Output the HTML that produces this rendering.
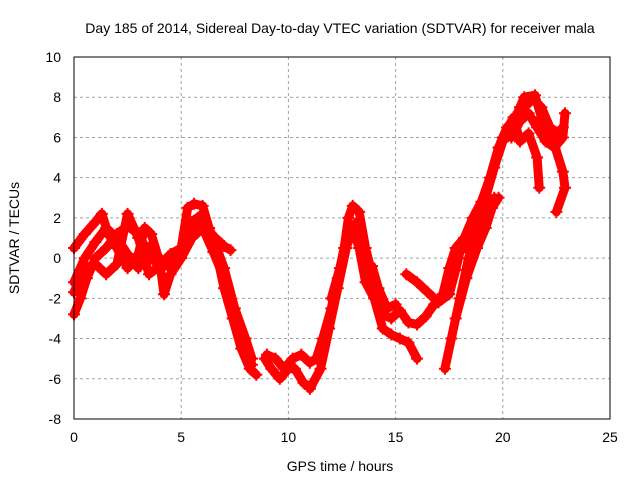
<!DOCTYPE html>
<html><head><meta charset="utf-8"><style>
body{margin:0;background:#fff}
svg text{font-family:"Liberation Sans",sans-serif;font-size:14px;fill:#000}
</style></head><body>
<svg id="c" width="640" height="480">
<text x="340" y="33" text-anchor="middle">Day 185 of 2014, Sidereal Day-to-day VTEC variation (SDTVAR) for receiver mala</text>
<text x="340" y="471" text-anchor="middle">GPS time / hours</text>
<text transform="translate(19,238) rotate(-90)" text-anchor="middle">SDTVAR / TECUs</text>
<g id="grid"></g><g id="ticks"></g><g id="marks"></g>
<rect x="74" y="57" width="536" height="362" fill="none" stroke="#000"/>
</svg>
<script>
const xTicks=[0,5,10,15,20,25];
const yTicks=[-8,-6,-4,-2,0,2,4,6,8,10];
const trackA=[[0,-2.8],[0.3,-2],[0.6,-1],[1,0],[1.5,0.5],[2,1.2],[2.5,1.6],[3,1.2],[3.5,0.2],[4,-0.5],[4.3,-0.3],[4.8,0],[5.2,0.8],[5.5,1.5],[5.8,2.0],[6.2,1.4],[6.6,1.0],[7,0.6],[7.3,0.4]];
const trackB=[[0,0.5],[0.5,1.2],[1,1.8],[1.3,2.2],[1.6,1.2],[2,0.5],[2.5,-0.5],[3,0.2],[3.3,1.5],[3.6,1.2],[4,-0.2],[4.2,-1.8],[4.5,-0.8],[5,0],[5.5,1.0],[6,1.5],[6.5,0.3],[7,-1],[7.3,-2],[7.6,-3.2],[8,-4.5],[8.3,-5.3]];
const trackC=[[0,-1.7],[0.5,-0.5],[1,-0.3],[1.5,-0.8],[2,-0.3],[2.5,2.2],[3,1.0],[3.5,-0.8],[4,-0.4],[4.5,0.2],[5,0.5],[5.3,2.5],[5.6,2.7],[6,2.6],[6.3,1.5],[6.6,0.5],[7,-1.5],[7.4,-3],[7.8,-4.5],[8.2,-5.5],[8.5,-5.8]];
const trackK=[[0,-1.2],[0.5,0],[1,0.8],[1.5,1.5],[2,1.0],[2.5,0.2],[3,-0.5],[3.5,0.5],[4,0],[4.5,-0.5],[5,0.3],[5.5,1.8],[6,2.2],[6.5,1.0],[7,-0.5],[7.5,-2.5],[8,-4],[8.3,-5]];
const trackD=[[8.9,-5.0],[9.2,-5.5],[9.6,-6.0],[10,-5.5],[10.3,-5.5],[10.7,-6.2],[11,-6.4]];
const trackE=[[9,-4.8],[9.4,-5.0],[9.8,-5.5],[10.2,-5.0],[10.6,-4.8],[11,-5.2],[11.3,-5.0],[11.6,-4.0],[12,-2.5],[12.3,-1.0],[12.6,0.5],[12.8,2.0],[13,2.6],[13.3,2.3],[13.6,0.5],[14,-1.2],[14.4,-2.8],[14.8,-3.0],[15.2,-2.6],[15.6,-3.2],[16,-3.3],[16.4,-2.9],[16.8,-2.3],[17.2,-1.8],[17.5,-0.5],[17.8,0.5],[18.2,1.0],[18.6,2.0],[19,2.8],[19.4,4.0],[19.8,5.5],[20.2,6.5],[20.6,7.0],[21,7.5],[21.4,7.9],[21.8,7.5],[22.2,6.5],[22.6,6.2],[22.8,6.5]];
const trackF=[[11,-6.5],[11.5,-5.5],[11.9,-3.5],[12.3,-1.5],[12.7,0.5],[13,1.5],[13.3,0.5],[13.6,-1.2],[14,-2.0],[14.4,-3.5],[14.8,-3.8],[15.2,-4.0],[15.6,-4.2],[16,-5.0]];
const trackM=[[12,-2],[12.4,-0.5],[12.8,1.0],[13.2,1.8],[13.6,-0.5],[13.9,-0.4],[14.2,-1.5],[14.6,-2.5],[15,-2.3]];
const trackH=[[15.5,-0.8],[16,-1.2],[16.5,-1.7],[17,-2.2],[17.5,-1.8],[17.8,-0.6],[18,0.3],[18.5,1.0],[19,1.5],[19.3,2.5],[19.6,3.0]];
const trackN=[[17.8,-3],[18.3,-1],[18.8,0.5],[19.2,1.5],[19.5,2.5],[19.8,3.0]];
const trackI=[[17.3,-5.5],[17.6,-4],[18,-2],[18.4,0],[18.8,1.5],[19.2,3],[19.6,4.5],[20,5.8],[20.4,6.5],[20.8,7.5],[21,8.0],[21.5,8.1],[21.8,7.0],[22.3,6.0],[22.8,4.3],[22.9,3.5],[22.5,2.3]];
const trackJ=[[20,6],[20.5,7.0],[20.8,5.8],[21.2,6.2],[21.6,5.0],[21.7,3.5]];
const trackL=[[20.4,6.0],[20.8,6.8],[21.2,7.2],[21.6,6.5],[22,5.8],[22.4,5.5],[22.8,6.0],[22.9,7.2]];
const tracks=[trackA,trackB,trackC,trackK,trackD,trackE,trackF,trackM,trackH,trackN,trackI,trackJ,trackL];
const X=v=>74+v*536/25, Y=v=>419-(v+8)*362/18;
const NS='http://www.w3.org/2000/svg';
function mk(t,a,p){const e=document.createElementNS(NS,t);for(const k in a)e.setAttribute(k,a[k]);p.appendChild(e);return e;}
const g=document.getElementById('grid'),tk=document.getElementById('ticks'),m=document.getElementById('marks');
xTicks.forEach(v=>{
 if(v>0&&v<25){const l=mk('line',{x1:X(v),x2:X(v),y1:57,y2:419,stroke:'#a0a0a0','stroke-dasharray':'3,3'},g);
 
 }
 const t=mk('text',{x:X(v),y:442,'text-anchor':'middle'},tk);t.textContent=v;
 
 
});
yTicks.forEach(v=>{
 if(v>-8&&v<10){const l=mk('line',{x1:74,x2:610,y1:Y(v),y2:Y(v),stroke:'#a0a0a0','stroke-dasharray':'3,3'},g);
 
 }
 const t=mk('text',{x:61,y:Y(v)+5,'text-anchor':'end'},tk);t.textContent=v;
 
 
});
tracks.forEach(tr=>{
 const pl=mk('polyline',{points:tr.map(p=>X(p[0])+','+Y(p[1])).join(' '),fill:'none',stroke:'#ff0000','stroke-width':9,'stroke-linejoin':'round','stroke-linecap':'round'},m);
 
 
 tr.forEach(p=>{
  const x=X(p[0]),y=Y(p[1]);
  const c=mk('path',{d:`M${x-6},${y}h12M${x},${y-6}v12`,stroke:'#ff0000','stroke-width':2},m);
  
  
 });
});
</script>
</body></html>
